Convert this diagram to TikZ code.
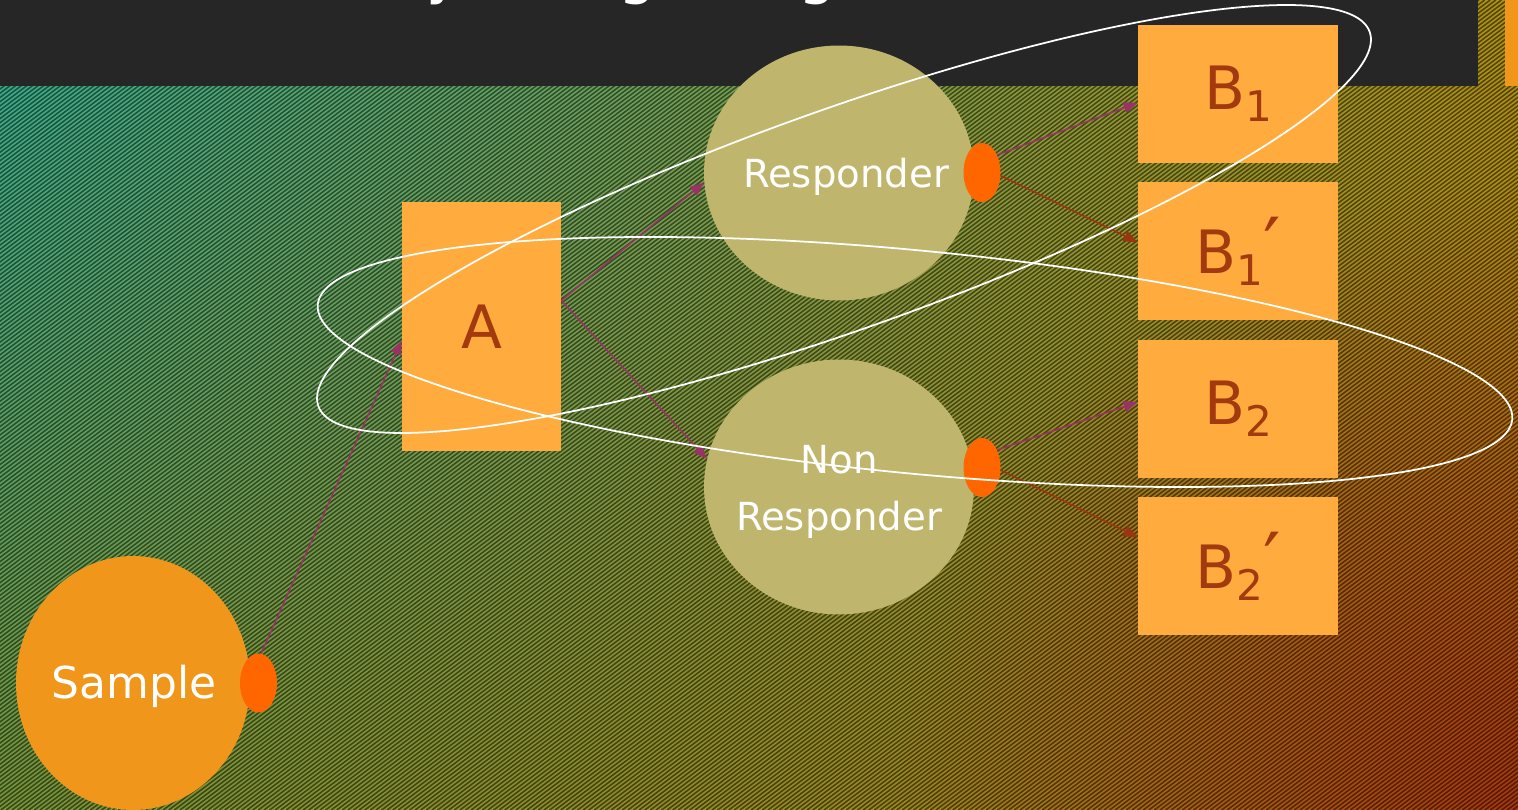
\documentclass[tikz,border=0pt]{standalone}
\usepackage{fontspec}
\setmainfont{DejaVu Sans}
\usetikzlibrary{arrows.meta,shapes.geometric,shadings,fadings}

\definecolor{barcol}{HTML}{262626}
\definecolor{boxfill}{HTML}{FFAB3D}
\definecolor{samplefill}{HTML}{F0961A}
\definecolor{groupfill}{HTML}{C0B56C}
\definecolor{dotfill}{HTML}{FF6600}
\definecolor{lettercol}{HTML}{A3390F}
\definecolor{armA}{HTML}{993366}
\definecolor{armB}{HTML}{9C3412}
\definecolor{bgUL}{HTML}{33B296}
\definecolor{bgUR}{HTML}{B29412}
\definecolor{bgLL}{HTML}{789838}
\definecolor{bgLR}{HTML}{B8800C}
\definecolor{rustcol}{HTML}{AC380C}

\tikzfading[name=cornerfade,inner color=transparent!0,outer color=transparent!100]

% subscript digit for the treatment labels
\newcommand\trsub[1]{\raisebox{-0.2em}{\fontsize{24pt}{24pt}\selectfont #1}}
\newcommand\trprime{{\fontsize{44pt}{44pt}\selectfont ′}}

\begin{document}
\begin{tikzpicture}[x=0.02cm,y=-0.02cm,
  treat/.style={fill=boxfill,inner sep=0pt,minimum width=4cm,minimum height=2.76cm,
    text=lettercol,font=\fontsize{34pt}{40pt}\selectfont},
  group/.style={ellipse,fill=groupfill,inner sep=0pt,minimum width=5.4cm,minimum height=5.1cm},
  grouptext/.style={text=white,align=center,inner sep=0pt,font=\fontsize{22pt}{32pt}\selectfont},
  dot/.style={ellipse,fill=dotfill,inner sep=0pt,minimum width=0.74cm,minimum height=1.18cm},
  armone/.style={draw=armA,line width=0.85pt,-{Triangle[length=0.28cm,width=0.22cm]}},
  armtwo/.style={draw=armB,line width=0.85pt,-{Triangle[length=0.28cm,width=0.22cm]}},
  ring/.style={draw=white,line width=1pt},
  stripe/.style={draw=black,opacity=0.52,line width=0.032cm},
  titletext/.style={text=white,inner sep=0pt,anchor=base,font=\fontsize{34pt}{40pt}\selectfont}]

\useasboundingbox (0,0) rectangle (1518,810);

% background: four-corner gradient, rust glow in the lower right, fine diagonal hatching
\shade[upper left=bgUL,upper right=bgUR,lower left=bgLL,lower right=bgLR]
  (0,0) rectangle (1518,810);
\begin{scope}
  \clip (0,0) rectangle (1518,810);
  \fill[rustcol,path fading=cornerfade] (1518,810) circle [radius=620];
  \foreach \k in {0,...,465}
    \draw[stripe] ({-1080+\k*5.6},810) -- ++(1075,-810);
\end{scope}

% title bar (title runs above the page edge)
\fill[barcol] (0,0) rectangle (1478,86);
\fill[samplefill] (1505,0) rectangle (1518,86);
\begin{scope}
  \clip (0,0) rectangle (1478,86);
  \node[titletext] (t1) at (444,-7) {y};
  \node[titletext] (t2) at (637,-7) {g};
  \node[titletext] (t3) at (817,-7) {g};
\end{scope}

% sample
\node[ellipse,fill=samplefill,inner sep=0pt,minimum width=4.68cm,minimum height=5.08cm] (sample) at (133,683) {};
\node[grouptext,font=\fontsize{25pt}{30pt}\selectfont] (sampletext) at (134,686) {Sample};
\node[dot] (sdot) at (258.5,683) {};

% first-stage treatment
\node[treat,minimum width=3.18cm,minimum height=4.98cm] (A) at (481.5,326.5) {A};

% response groups
\node[group] (resp) at (839,173) {};
\node[group] (nonr) at (839,487) {};
\node[grouptext] (resptext) at (846,177) {Responder};
\node[grouptext] (nonrtext) at (839,492) {Non\\Responder};
\node[dot] (rdot) at (982,172.5) {};
\node[dot] (ndot) at (982,467.5) {};

% second-stage treatments
\node[treat] (b1)  at (1238,94)  {B\trsub{1}};
\node[treat] (b1p) at (1238,251) {B\trsub{1}\trprime};
\node[treat] (b2)  at (1238,409) {B\trsub{2}};
\node[treat] (b2p) at (1238,566) {B\trsub{2}\trprime};

% randomisation arrows
\draw[armone] (sdot.85) -- (A.190);
\draw[armone] (A.18) -- (resp.184);
\draw[armone] (A.18) -- (nonr.168);
\draw[armone] (rdot.49) -- (b1.185);
\draw[armtwo] (rdot.-10) -- (b1p.175);
\draw[armone] (ndot.49) -- (b2.176);
\draw[armtwo] (ndot.-8) -- (b2p.164);

% embedded regimes
\draw[ring,rotate around={19.6:(844,219)}] (844,219) ellipse [x radius=558,y radius=110];
\draw[ring,rotate around={-5.5:(915,362)}] (915,362) ellipse [x radius=600,y radius=111.5];

\end{tikzpicture}
\end{document}
